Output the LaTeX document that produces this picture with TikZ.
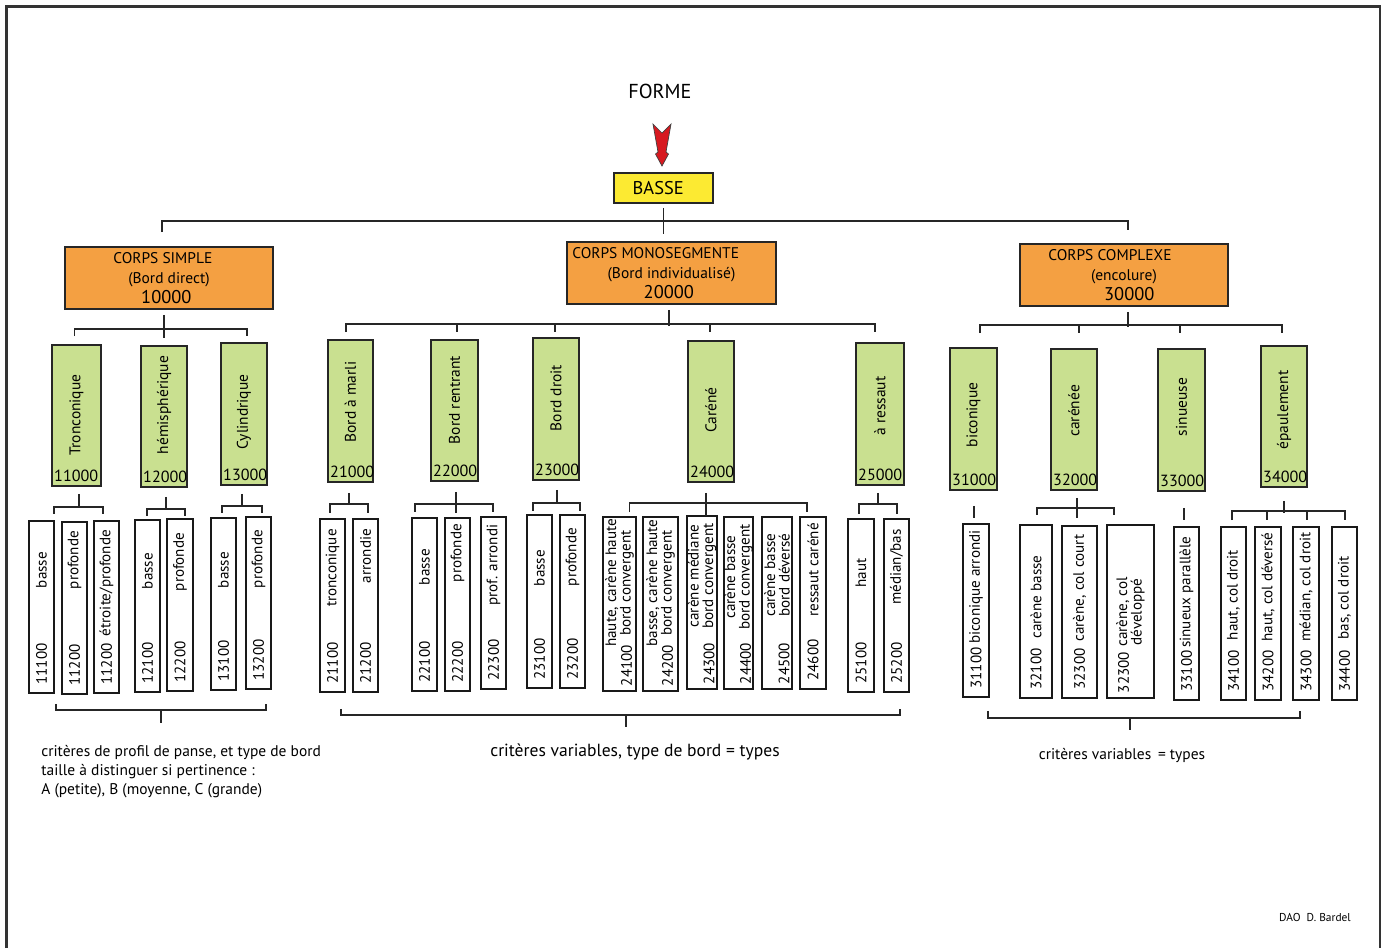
\documentclass[tikz,border=0pt]{standalone}
\usepackage{fontspec}
\setmainfont{PT Sans}
\usepackage{tikz}
\usetikzlibrary{calc}

\definecolor{corpsorange}{RGB}{244,160,66}
\definecolor{typegreen}{RGB}{201,224,144}
\definecolor{basseyellow}{RGB}{252,234,50}
\definecolor{arrowred}{RGB}{215,25,32}

% green type box: name, left, right, top, bottom, label, label y, number
\newcommand{\typenode}[8]{%
  \node[typebox, minimum width={(#3-#2)*0.02cm}, minimum height={(#5-#4)*0.02cm}]
    (#1) at ({(#2+#3)/2},{(#4+#5)/2}) {};
  \node[vlabel, font=\fontsize{8.8}{9}\selectfont] (#1t) at ({(#2+#3)/2},#7) {#6};
  \node[tnum] (#1n) at ($(#1.south west)+(1,-3)$) {#8};
}
% white leaf box: name, left, right, top, bottom, number, label, label y, number shift
\newcommand{\leafnode}[9]{%
  \node[leafcell, minimum width={(#3-#2)*0.02cm}, minimum height={(#5-#4)*0.02cm}]
    (#1) at ({(#2+#3)/2},{(#4+#5)/2}) {};
  \node[vlabel, anchor=west] (#1n) at ({(#2+#3)/2+#9},{#5-8+abs(#9)/2}) {#6};
  \node[vlabel] (#1t) at ({(#2+#3)/2},#8) {#7};
}

\begin{document}
\begin{tikzpicture}[x=0.02cm,y=-0.02cm,
  corpsbox/.style={draw=black!85,fill=corpsorange,line width=1pt,inner sep=0pt,
    align=center,font=\fontsize{8.8}{11.4}\selectfont},
  typebox/.style={draw=black!85,fill=typegreen,line width=1pt,inner sep=0pt},
  leafcell/.style={draw=black!90,fill=white,line width=1pt,inner sep=0pt},
  vlabel/.style={rotate=90,inner sep=0pt,align=center,font=\fontsize{8.6}{8.2}\selectfont},
  tnum/.style={anchor=south west,inner sep=1pt,font=\fontsize{9.2}{10}\selectfont},
  conn/.style={line width=0.95pt,black!85},
  captext/.style={inner sep=0pt,font=\fontsize{8.8}{10.8}\selectfont}]
  \useasboundingbox (0,0) rectangle (1386,948);
  % page frame, open at the foot
  \draw[line width=1.2pt,black!80] (6.5,948) -- (6.5,6.5) -- (1380,6.5) -- (1380,948);

  % head
  \node[font=\fontsize{11.5}{12}\selectfont] (forme) at (660,91) {FORME};
  \node[draw=black!85,fill=basseyellow,line width=1pt,minimum width=1.98cm,
    minimum height=0.6cm,font=\fontsize{10.5}{12}\selectfont] (basse) at (663.5,188)
    {BASSE\hspace*{6pt}};
  \filldraw[fill=arrowred,draw=black!75,line width=0.4pt]
    (653,124) -- (662,133) -- (671,124) -- (666,152) -- (668.5,154) -- (662,166)
    -- (655.5,154) -- (658,152) -- cycle;

  % body types
  \node[corpsbox,minimum width=4.16cm,minimum height=1.24cm] (simple) at (169,278)
    {CORPS SIMPLE\hspace*{7pt}\\(Bord direct)\hspace*{4pt}\\{\fontsize{10.5}{12}\selectfont 10000\hspace*{3pt}}};
  \node[corpsbox,minimum width=4.18cm,minimum height=1.24cm] (mono) at (671.5,273)
    {CORPS MONOSEGMENTE\hspace*{18pt}\\(Bord individualisé)\hspace*{13pt}\\{\fontsize{10.5}{12}\selectfont 20000\hspace*{3pt}}};
  \node[corpsbox,minimum width=4.16cm,minimum height=1.24cm] (complexe) at (1124,275)
    {CORPS COMPLEXE\hspace*{16pt}\\(encolure)\hspace*{12pt}\\{\fontsize{10.5}{12}\selectfont\hspace*{6pt}30000}};

  % profiles
  \typenode{tron}{52}{101}{345}{486}{Tronconique}{415}{11000}
  \typenode{hemi}{141}{187}{346}{487}{hémisphérique}{405}{12000}
  \typenode{cyl}{221}{267}{343}{485}{Cylindrique}{412}{13000}
  \typenode{marli}{328}{373}{340}{482}{Bord à marli}{402}{21000}
  \typenode{rentr}{431}{478}{340}{481}{Bord rentrant}{400}{22000}
  \typenode{droit}{533}{579}{338}{480}{Bord droit}{398}{23000}
  \typenode{carene}{688}{734}{341}{482}{Caréné}{410}{24000}
  \typenode{ressaut}{856}{904}{343}{485}{à ressaut}{406}{25000}
  \typenode{bicon}{950}{997}{348}{490}{biconique}{415}{31000}
  \typenode{caree}{1051}{1097}{349}{490}{carénée}{411}{32000}
  \typenode{sinu}{1158}{1205}{349}{491}{sinueuse}{407}{33000}
  \typenode{epaul}{1261}{1307}{346}{487}{épaulement}{410}{34000}

  % types
  \leafnode{l11100}{29}{54}{521}{693}{11100}{basse}{570}{0}
  \leafnode{l11200}{62}{87}{522}{694}{11200}{profonde}{560}{0}
  \leafnode{l11201}{94}{119}{521}{693}{11200}{étroite/profonde}{583}{0}
  \leafnode{l12100}{135}{160}{520}{692}{12100}{basse}{571}{0}
  \leafnode{l12200}{167}{193}{519}{691}{12200}{profonde}{562}{0}
  \leafnode{l13100}{211}{236}{518}{690}{13100}{basse}{570}{0}
  \leafnode{l13200}{246}{271}{517}{689}{13200}{profonde}{559}{0}
  \leafnode{l21100}{320}{345}{519}{692}{21100}{tronconique}{568}{0}
  \leafnode{l21200}{353}{378}{519}{692}{21200}{arrondie}{556}{0}
  \leafnode{l22100}{412}{437}{518}{691}{22100}{basse}{567}{0}
  \leafnode{l22200}{445}{470}{518}{691}{22200}{profonde}{553}{0}
  \leafnode{l22300}{481}{506}{517}{689}{22300}{prof. arrondi}{565}{0}
  \leafnode{l23100}{527}{552}{515}{688}{23100}{basse}{568}{0}
  \leafnode{l23200}{560}{585}{515}{688}{23200}{profonde}{557}{0}
  \leafnode{l24100}{603}{636}{517}{691}{24100}{haute, carène haute\\bord convergent}{583}{7}
  \leafnode{l24200}{643}{678}{517}{691}{24200}{basse, carène haute\\bord convergent}{583}{7}
  \leafnode{l24300}{687}{717}{516}{689}{24300}{carène médiane\\bord convergent}{576}{7}
  \leafnode{l24400}{724}{753}{517}{689}{24400}{carène basse\\bord convergent}{577}{7}
  \leafnode{l24500}{762}{792}{517}{689}{24500}{carène basse\\bord déversé}{575}{7}
  \leafnode{l24600}{800}{826}{517}{689}{24600}{ressaut caréné}{570}{0}
  \leafnode{l25100}{848}{874}{519}{692}{25100}{haut}{573}{0}
  \leafnode{l25200}{884}{909}{519}{692}{25200}{médian/bas}{567}{0}
  \leafnode{l31100}{963}{989}{524}{697}{31100}{biconique arrondi}{587}{0}
  \leafnode{l32100}{1020}{1052}{525}{698}{32100}{carène basse}{597}{0}
  \leafnode{l32300}{1062}{1097}{526}{698}{32300}{carène, col court}{588}{0}
  \leafnode{l32301}{1107}{1154}{525}{698}{32300}{carène, col\\développé}{612}{-7}
  \leafnode{l33100}{1174}{1199}{527}{700}{33100}{sinueux parallèle}{592}{0}
  \leafnode{l34100}{1221}{1246}{527}{700}{34100}{haut, col droit}{595}{0}
  \leafnode{l34200}{1255}{1281}{527}{700}{34200}{haut, col déversé}{587}{0}
  \leafnode{l34300}{1293}{1319}{527}{700}{34300}{médian, col droit}{587}{0}
  \leafnode{l34400}{1332}{1357}{527}{700}{34400}{bas, col droit}{598}{0}

  % BASSE -> body types
  \draw[conn] ($(basse.south)+(0,4)$) -- ++(0,26);
  \draw[conn] ($(simple.north)+(-7,-14)$) -- ++(0,-11) -| ($(complexe.north)+(4,-13)$);

  % body types -> profiles
  \draw[conn] ($(simple.south)+(-5,5)$) -- ++(0,23);
  \draw[conn] ($(tron.north)+(-2,-8)$) -- ++(0,-7) -| ($(cyl.north)+(3,-6)$);
  \draw[conn] ($(mono.south)+(-2.5,5)$) -- ++(0,16);
  \draw[conn] ($(marli.north)+(-4.5,-7)$) -- ++(0,-8) -| ($(ressaut.north)+(-5,-10)$);
  \draw[conn] ($(rentr.north)+(2.5,-15)$) -- ++(0,8);
  \draw[conn] ($(droit.north)+(-1,-13)$) -- ++(0,8);
  \draw[conn] ($(carene.north)+(-1,-16)$) -- ++(0,8);
  \draw[conn] ($(complexe.south)+(4,5)$) -- ++(0,15);
  \draw[conn] ($(bicon.north)+(6.5,-14)$) -- ++(0,-8) -| ($(epaul.north)+(-2,-12)$);
  \draw[conn] ($(caree.north)+(5,-23)$) -- ++(0,8);
  \draw[conn] ($(sinu.north)+(-1.5,-23)$) -- ++(0,8);

  % profiles -> types
  \draw[conn] ($(tron.south)+(2.5,7)$) -- ++(0,13);
  \draw[conn] ($(tron.south west)+(3,27)$) -- ++(0,-7) -| ($(tron.south east)+(1,27)$);
  \draw[conn] ($(hemi.south)+(2,9)$) -- ++(0,12);
  \draw[conn] ($(hemi.south west)+(7,28)$) -- ++(0,-7) -| ($(hemi.south east)+(-3,28)$);
  \draw[conn] ($(cyl.south)+(-2,8)$) -- ++(0,12);
  \draw[conn] ($(cyl.south west)+(2,27)$) -- ++(0,-7) -| ($(cyl.south east)+(-6,27)$);
  \draw[conn] ($(marli.south)+(-1.5,10)$) -- ++(0,11);
  \draw[conn] ($(marli.south west)+(3,30)$) -- ++(0,-9) -| ($(marli.south east)+(-6,30)$);
  \draw[conn] ($(rentr.south)+(1.5,10)$) -- ++(0,21);
  \draw[conn] ($(rentr.south west)+(-15,30)$) -- ++(0,-8) -| ($(rentr.south east)+(14,30)$);
  \draw[conn] ($(droit.south)+(1,9)$) -- ++(0,12);
  \draw[conn] ($(droit.south west)+(1,30)$) -- ++(0,-8) -| ($(droit.south east)+(0,30)$);
  \draw[conn] ($(carene.south)+(-5,10)$) -- ++(0,23);
  \draw[conn] ($(l24100.north)+(10,-4)$) -- ++(0,-9) -| ($(l24600.north)+(-6,-4)$);
  \draw[conn] ($(ressaut.south)+(-2,7)$) -- ++(0,11);
  \draw[conn] ($(ressaut.south west)+(4,28)$) -- ++(0,-10) -| ($(ressaut.south east)+(-8,28)$);
  \draw[conn] ($(bicon.south)+(0.5,15)$) -- ++(0,12);
  \draw[conn] ($(caree.south)+(3,7)$) -- ++(0,20);
  \draw[conn] ($(caree.south west)+(-13,24)$) -- ++(0,-7) -| ($(caree.south east)+(16,24)$);
  \draw[conn] ($(sinu.south)+(2.5,16)$) -- ++(0,12);
  \draw[conn] ($(epaul.south)+(0,13)$) -- ++(0,12);
  \draw[conn] ($(l34100.north)+(-1.5,-6)$) -- ++(0,-9) -| ($(l34400.north)+(0.5,-6)$);
  \draw[conn] ($(l34200.north)+(-1,-15)$) -- ++(0,9);
  \draw[conn] ($(l34300.north)+(1,-15)$) -- ++(0,9);

  % braces under the types
  \coordinate (b1a) at ($(l11100.south)+(14.5,10)$);
  \coordinate (b1b) at ($(l13200.south)+(7.5,14)$);
  \draw[conn] (b1a) -- ++(0,6) -| (b1b);
  \draw[conn] ($(b1a)!0.5!(b1b)+(0,6)$) -- ++(0,13);
  \coordinate (b2a) at ($(l21100.south)+(8.5,16)$);
  \coordinate (b2b) at ($(l25200.south)+(3.5,16)$);
  \draw[conn] (b2a) -- ++(0,6) -| (b2b);
  \draw[conn] ($(b2a)!0.51!(b2b)+(0,6)$) -- ++(0,12);
  \coordinate (b3a) at ($(l31100.south)+(12,13)$);
  \coordinate (b3b) at ($(l34300.south)+(-6,10)$);
  \draw[conn] (b3a) -- ++(0,7) -| (b3b);
  \draw[conn] ($(b3a)!0.455!(b3b)+(0,7)$) -- ++(0,12);

  % notes
  \node[captext,anchor=west,align=left] (crit1) at (41,772)
    {critères de profil de panse, et type de bord\\taille à distinguer si pertinence :\\A (petite), B (moyenne, C (grande)};
  \node[captext,font=\fontsize{10}{12}\selectfont] (crit2) at (635,752) {critères variables, type de bord = types};
  \node[captext] (crit3) at (1122,756) {critères variables \,= types};
  \node[font=\fontsize{6.5}{7}\selectfont] (dao) at (1315,917) {DAO\ \ D. Bardel};
\end{tikzpicture}
\end{document}
